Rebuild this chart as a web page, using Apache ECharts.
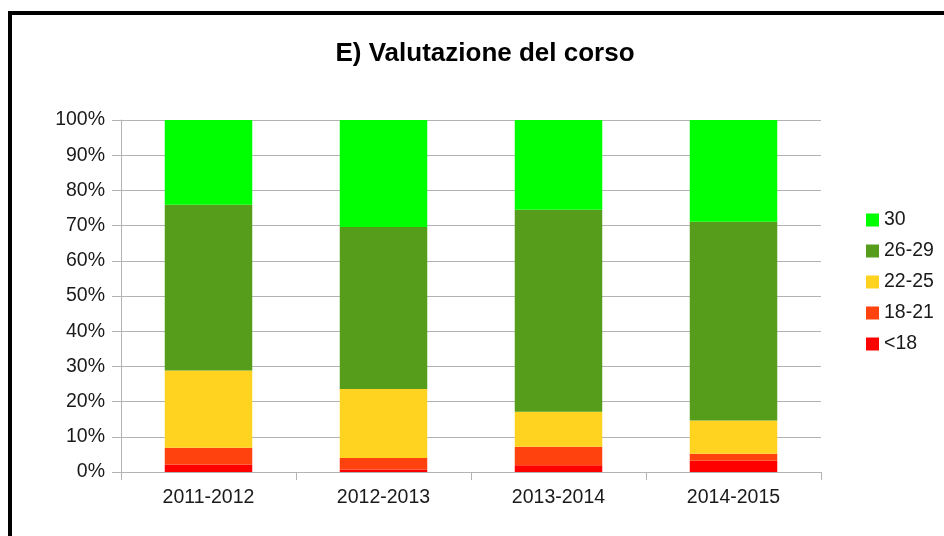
<!DOCTYPE html>
<html>
<head>
<meta charset="utf-8">
<script src="https://cdn.jsdelivr.net/npm/echarts@6/dist/echarts.min.js"></script>
<style>
  body { margin: 0; background: #fff; }
  #chart { position: absolute; left: 0; top: 0; width: 944px; height: 536px; }
  #frame {
    position: absolute; left: 8px; top: 11px; width: 1000px; height: 600px;
    border-left: 4px solid #000; border-top: 4px solid #000;
    pointer-events: none;
  }
</style>
</head>
<body>
<div id="chart"></div>
<div id="frame"></div>
<script>
var years = ["2011-2012", "2012-2013", "2013-2014", "2014-2015"];
// percentuali per fascia di voto
var under18 = [2.1, 0.7, 1.9, 3.2];
var v18_21 = [4.8, 3.3, 5.3, 2.0];
var v22_25 = [21.9, 19.6, 9.9, 9.4];
var v26_29 = [47.1, 46.0, 57.4, 56.5];
var v30 = [24.1, 30.4, 25.5, 28.9];
var yTicks = [0, 10, 20, 30, 40, 50, 60, 70, 80, 90, 100];

var chart = echarts.init(document.getElementById("chart"));

function bar(name, data, color) {
  return {
    name: name,
    type: "bar",
    stack: "tot",
    barCategoryGap: "50%",
    data: data,
    itemStyle: { color: color }
  };
}

var option = {
  animation: false,
  textStyle: { fontFamily: "Liberation Sans, Arial, sans-serif" },
  title: {
    text: "E) Valutazione del corso",
    left: 480,
    top: 36,
    textAlign: "center",
    textStyle: { fontSize: 26, fontWeight: "bold", color: "#000" }
  },
  legend: {
    orient: "vertical",
    left: 861,
    top: 205,
    itemWidth: 13,
    itemHeight: 13,
    itemGap: 11,
    icon: "rect",
    data: ["30", "26-29", "22-25", "18-21", "<18"],
    textStyle: { fontSize: 19.5, color: "#1a1a1a" }
  },
  grid: { left: 121, right: 123, top: 120, bottom: 64 },
  xAxis: {
    type: "category",
    data: years,
    axisLine: { lineStyle: { color: "#b3b3b3" } },
    axisTick: { show: true, length: 8, lineStyle: { color: "#b3b3b3" } },
    axisLabel: { fontSize: 19.5, color: "#1a1a1a", margin: 16 }
  },
  yAxis: {
    type: "value",
    min: yTicks[0],
    max: yTicks[yTicks.length - 1],
    interval: 10,
    axisLine: { show: true, lineStyle: { color: "#b3b3b3" } },
    axisTick: { show: true, length: 9, lineStyle: { color: "#b3b3b3" } },
    axisLabel: { fontSize: 19.5, color: "#1a1a1a", margin: 16, formatter: "{value}%" },
    splitLine: { lineStyle: { color: "#b3b3b3" } }
  },
  series: [
    bar("<18", under18, "#ff0000"),
    bar("18-21", v18_21, "#ff420e"),
    bar("22-25", v22_25, "#ffd320"),
    bar("26-29", v26_29, "#579d1c"),
    bar("30", v30, "#00ff00")
  ]
};

chart.setOption(option);
</script>
</body>
</html>
